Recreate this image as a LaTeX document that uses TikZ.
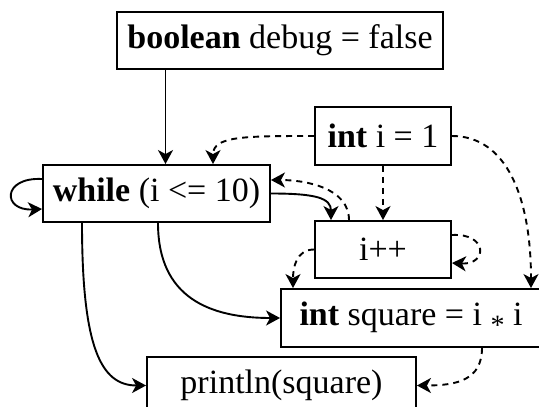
\documentclass[tikz,border=0pt]{standalone}
\usepackage{fontspec}
\setmainfont{Liberation Serif}
\usetikzlibrary{arrows.meta,calc}
\begin{document}
\begin{tikzpicture}[x=1pt,y=-1pt,
  stmt/.style={draw,line width=1.9pt,inner sep=0pt,anchor=center,
    font=\fontsize{34}{40}\selectfont},
  flow/.style={line width=1.9pt,-{Stealth[length=14pt,width=15pt,inset=4pt]}},
  dep/.style={flow,dash pattern=on 6pt off 5pt}]
\useasboundingbox (0,0) rectangle (539,407);

% statements of the program
\node[stmt,minimum width=326pt,minimum height=57pt] (decl) at (280,40.5)
  {\textbf{boolean} debug = false};
\node[stmt,minimum width=227pt,minimum height=57pt] (loop) at (156.5,193.5)
  {\textbf{while} (i <= 10)};
\node[stmt,minimum width=136pt,minimum height=58pt] (init) at (383,136)
  {\textbf{int} i = 1};
\node[stmt,minimum width=136pt,minimum height=57pt] (incr) at (383,249.5)
  {i++};
\node[stmt,minimum width=260pt,minimum height=58pt] (sq) at (411,318)
  {\textbf{int} square = i {\fontsize{28}{28}\selectfont\raisebox{-0.32em}{*}} i};
\node[stmt,minimum width=269pt,minimum height=57pt] (out) at (281.5,385.5)
  {println(square)};

% entry point of the loop
\coordinate (entry) at ($(loop.north)+(9,0)$);

% control flow
\draw[flow] (entry |- decl.south) -- (entry);
\draw[flow] ($(loop.west)+(0,-14.5)$) .. controls +(-40,-2) and +(-40,2) ..
  ($(loop.west)+(0,15.5)$);
\draw[flow] (loop.east) .. controls +(45,0) and +(0,-22) ..
  ($(incr.north)+(-52,0)$);
\draw[flow] ($(loop.south)+(1.5,0)$) .. controls +(0,75) and +(-70,0) .. (sq.west);
\draw[flow] ($(loop.south)+(-74.5,0)$) .. controls +(0,125) and +(-45,0) .. (out.west);

% data dependencies
\draw[dep] (init.west) .. controls +(-70,0) and +(0,-28) ..
  ($(loop.north)+(56.5,0)$);
\draw[dep] (init.south) -- (incr.north);
\draw[dep] ($(incr.north)+(-34,0)$) .. controls +(0,-32) and +(35,0) ..
  ($(loop.east)+(0,-13.5)$);
\draw[dep] (init.east) .. controls +(55,0) and +(0,-90) ..
  ($(sq.north)+(120,0)$);
\draw[dep] ($(incr.east)+(0,-14.5)$) .. controls +(36,-2) and +(36,2) ..
  ($(incr.east)+(0,13.5)$);
\draw[dep] (incr.west) .. controls +(-18,0) and +(0,-20) ..
  ($(sq.north)+(-118,0)$);
\draw[dep] ($(sq.south)+(71,0)$) .. controls +(0,32) and +(40,0) .. (out.east);
\end{tikzpicture}
\end{document}
